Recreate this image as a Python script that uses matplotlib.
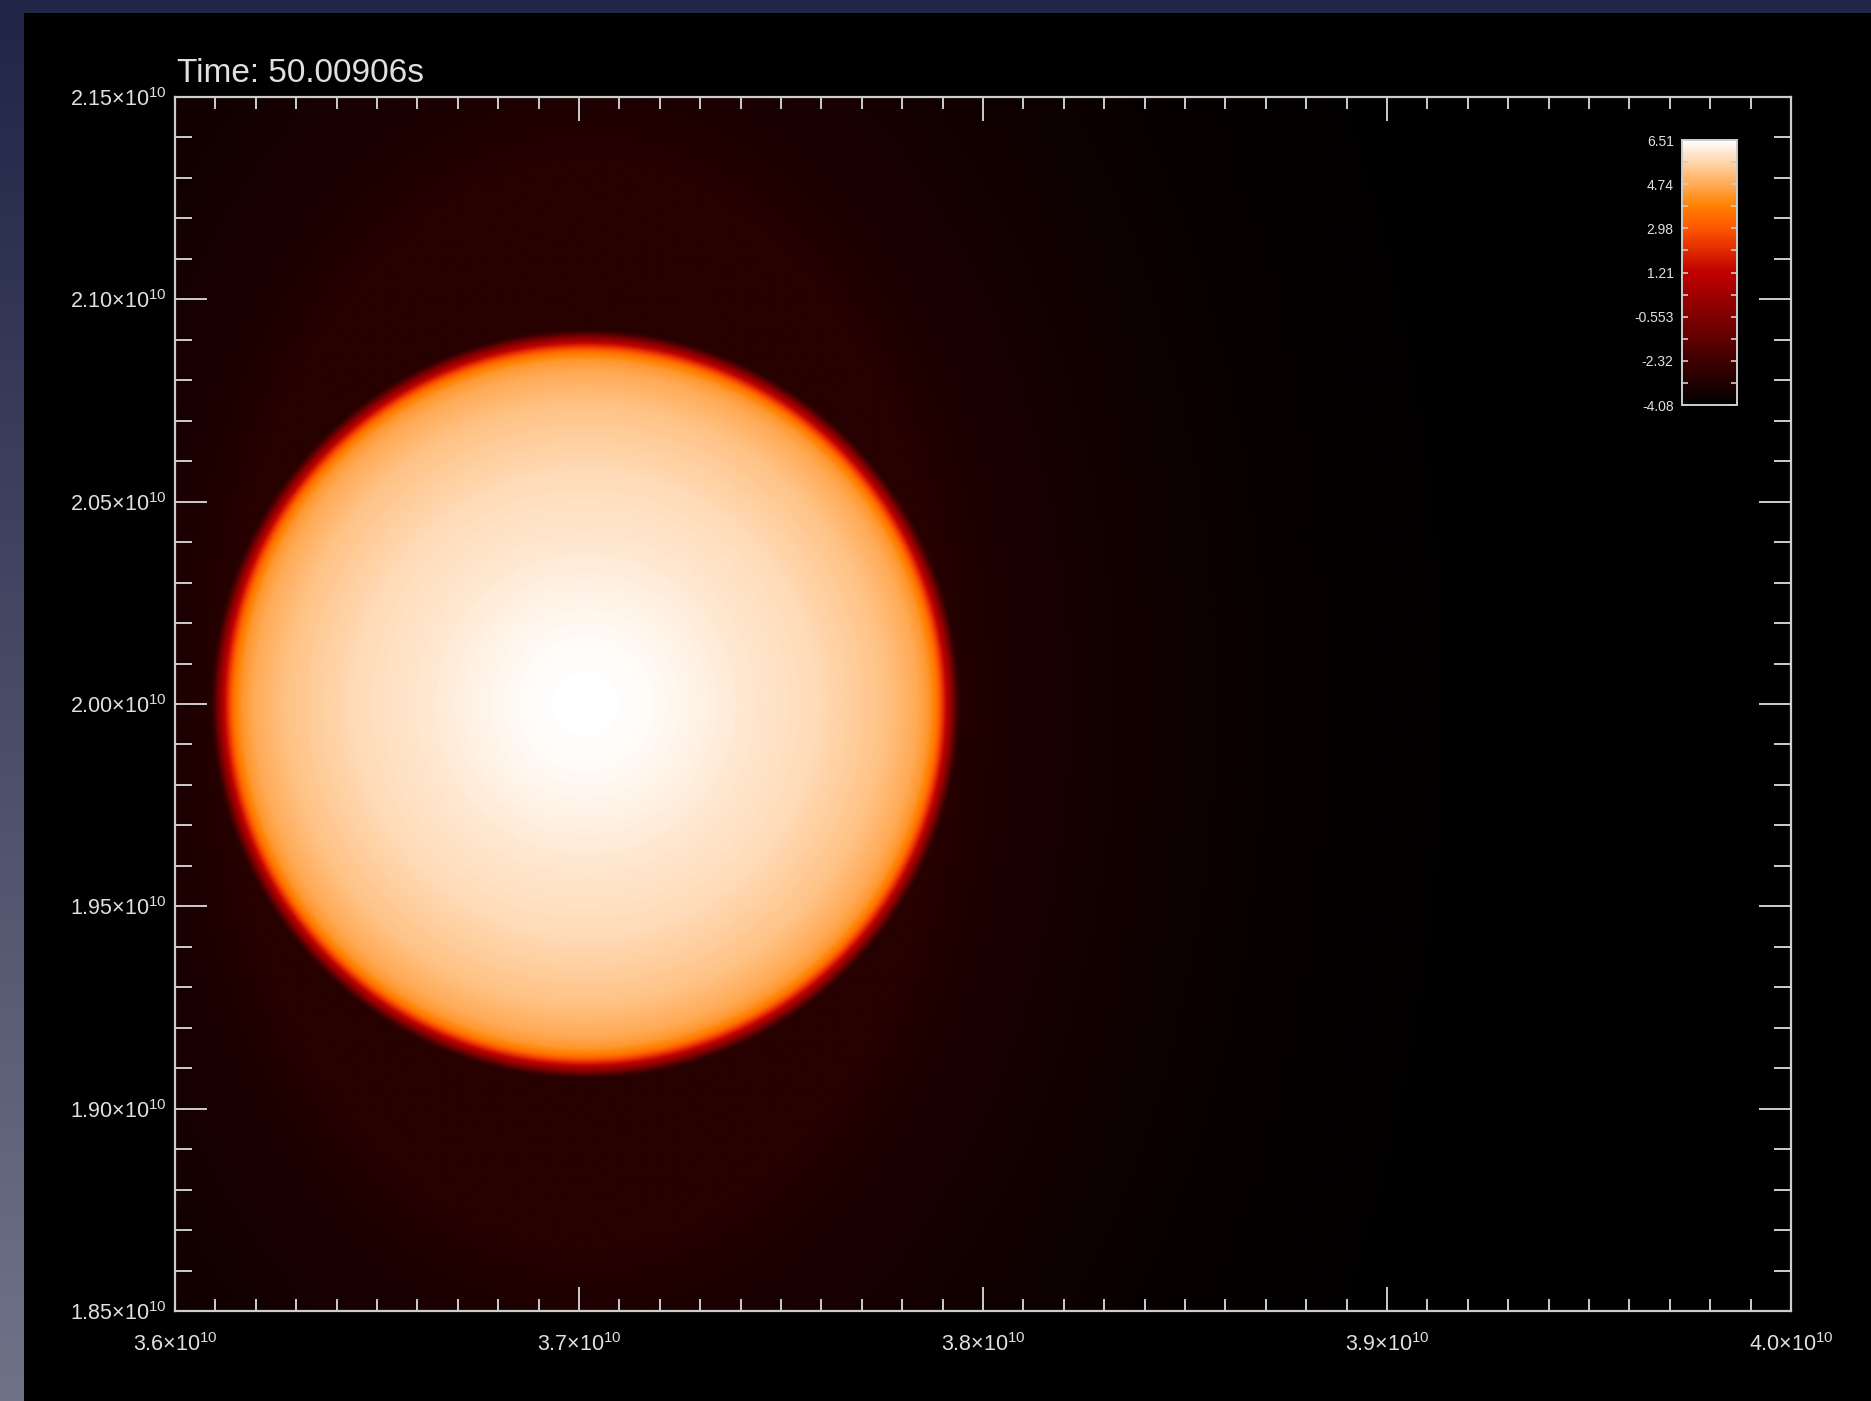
import numpy as np
import matplotlib
matplotlib.use("Agg")
import matplotlib.pyplot as plt
from matplotlib.patches import Rectangle
from matplotlib.ticker import MultipleLocator, FixedLocator

plt.rcParams["font.family"] = ["Liberation Sans", "DejaVu Sans"]
plt.rcParams["mathtext.fontset"] = "custom"
plt.rcParams["mathtext.rm"] = "Liberation Sans"
plt.rcParams["mathtext.it"] = "Liberation Sans:italic"
plt.rcParams["mathtext.bf"] = "Liberation Sans:bold"

# ---- data ---------------------------------------------------------------
title = "Time: 50.00906s"

x_range = [3.6e10, 4.0e10]
y_range = [1.85e10, 2.15e10]

x_ticks = [3.6e10, 3.7e10, 3.8e10, 3.9e10, 4.0e10]
x_tick_labels = ["3.6×10$^{10}$", "3.7×10$^{10}$", "3.8×10$^{10}$",
                 "3.9×10$^{10}$", "4.0×10$^{10}$"]
y_ticks = [1.85e10, 1.90e10, 1.95e10, 2.00e10, 2.05e10, 2.10e10, 2.15e10]
y_tick_labels = ["1.85×10$^{10}$", "1.90×10$^{10}$", "1.95×10$^{10}$",
                 "2.00×10$^{10}$", "2.05×10$^{10}$", "2.10×10$^{10}$",
                 "2.15×10$^{10}$"]

cbar_ticks = [-4.08, -2.32, -0.553, 1.21, 2.98, 4.74, 6.51]
cbar_labels = ["-4.08", "-2.32", "-0.553", "1.21", "2.98", "4.74", "6.51"]
vmin, vmax = -4.08, 6.51

# star centre (cm)
star_center = (3.7015e10, 2.0e10)

# radial log-density profile of the star (radius in 1e9 cm)
star_r = [0.0, 0.12, 0.25, 0.40, 0.57, 0.74, 0.82, 0.85, 0.87, 0.885,
          0.90, 0.912, 0.922, 0.935, 0.95, 5.0]
star_logrho = [6.51, 6.45, 6.28, 6.0, 5.75, 5.24, 4.75, 4.35, 3.7, 2.3,
               0.6, -1.0, -2.5, -3.6, -4.08, -4.08]

# surrounding envelope profile (elliptical radius in 1e9 cm)
env_q = [0.0, 0.9, 1.0, 1.2, 1.4, 1.7, 2.0, 2.5, 3.5, 10.0]
env_logrho = [-3.0, -3.0, -3.25, -3.45, -3.62, -3.85, -3.98, -4.05, -4.08, -4.08]
env_stretch = 1.5

# ---- figure ---------------------------------------------------------------
W, H = 1871, 1401
fig = plt.figure(figsize=(W / 100, H / 100), dpi=100)

# desktop-style gradient backdrop with the black frame on top
bg = fig.add_axes([0, 0, 1, 1])
top_col = np.array([33, 37, 70]) / 255
bot_col = np.array([112, 115, 136]) / 255
t = np.linspace(0, 1, 256)[:, None, None]
grad = top_col * (1 - t) + bot_col * t
grad = np.repeat(grad, 4, axis=1)
bg.imshow(grad, aspect="auto", extent=[0, 1, 0, 1], origin="upper")
bg.add_patch(Rectangle((24 / W, 0), 1 - 24 / W, 1 - 13 / H,
                       transform=bg.transAxes, color="black", lw=0))
bg.set_xlim(0, 1)
bg.set_ylim(0, 1)
bg.axis("off")

# ---- main panel -------------------------------------------------------------
ax = fig.add_axes([175 / W, 90 / H, 1616 / W, 1214 / H])
ax.set_zorder(2)
ax.set_facecolor("black")

nx, ny = 900, 680
xs = np.linspace(x_range[0], x_range[1], nx)
ys = np.linspace(y_range[0], y_range[1], ny)
X, Y = np.meshgrid(xs, ys)
dx = (X - star_center[0]) / 1e9
dy = (Y - star_center[1]) / 1e9
r = np.hypot(dx, dy)
q = np.hypot(dx, dy / env_stretch)
field = np.maximum(np.interp(r, star_r, star_logrho),
                   np.interp(q, env_q, env_logrho))

im = ax.imshow(field, extent=[x_range[0], x_range[1], y_range[0], y_range[1]],
               origin="lower", aspect="auto", cmap="gist_heat",
               vmin=vmin, vmax=vmax, interpolation="bilinear")
ax.set_xlim(*x_range)
ax.set_ylim(*y_range)

axis_col = "#cdcdcd"
text_col = "#e0e0e0"
for s in ax.spines.values():
    s.set_color(axis_col)
    s.set_linewidth(1.6)

ax.xaxis.set_major_locator(FixedLocator(x_ticks))
ax.set_xticklabels(x_tick_labels)
ax.xaxis.set_minor_locator(MultipleLocator(1e8))
ax.yaxis.set_major_locator(FixedLocator(y_ticks))
ax.set_yticklabels(y_tick_labels)
ax.yaxis.set_minor_locator(MultipleLocator(1e8))

ax.tick_params(which="both", direction="in", top=True, right=True,
               color=axis_col, width=1.4, labelcolor=text_col, labelsize=15.5)
ax.tick_params(axis="x", which="major", length=17, pad=16)
ax.tick_params(axis="x", which="minor", length=8.5)
ax.tick_params(axis="y", which="major", length=23, pad=6)
ax.tick_params(axis="y", which="minor", length=12)

fig.text(177 / W, 1 - 82 / H, title, ha="left", va="baseline",
         fontsize=24, color=text_col)

# ---- colour bar -------------------------------------------------------------
cax = fig.add_axes([1682 / W, (H - 405) / H, 55 / W, 265 / H])
cax.set_zorder(3)
cb = fig.colorbar(im, cax=cax)
cb.outline.set_edgecolor(axis_col)
cb.outline.set_linewidth(1.4)
cb.set_ticks(cbar_ticks)
cb.set_ticklabels(cbar_labels)
mids = [(a + b) / 2 for a, b in zip(cbar_ticks[:-1], cbar_ticks[1:])]
cax.yaxis.set_minor_locator(FixedLocator(mids))
cax.yaxis.set_ticks_position("both")
cax.tick_params(which="both", direction="in", left=True, right=True,
                labelleft=True, labelright=False, length=4.5, width=1.2,
                color=axis_col, labelcolor=text_col, labelsize=10, pad=6)

fig.savefig("out.png", dpi=100, facecolor="black")
